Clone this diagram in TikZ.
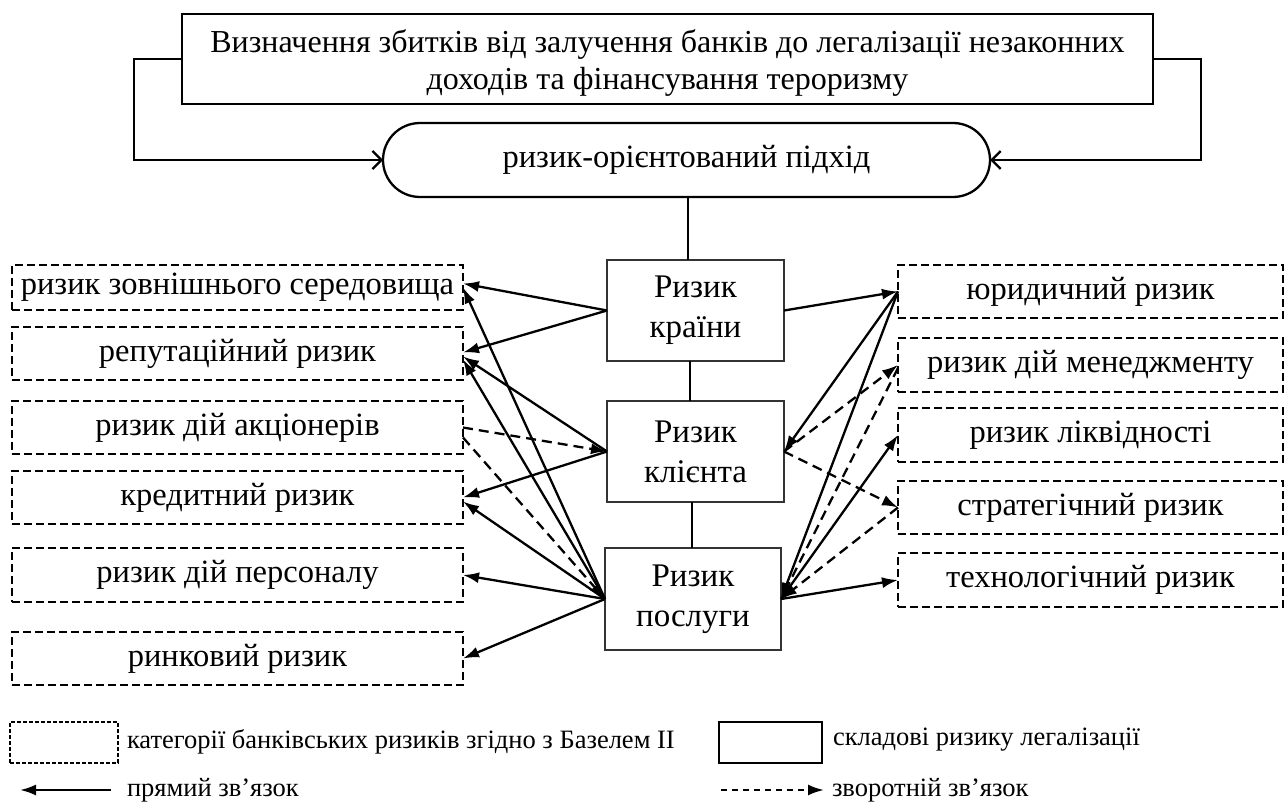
\documentclass[tikz,border=0pt]{standalone}
\usepackage{fontspec}
\setmainfont{Liberation Serif}
\usetikzlibrary{arrows.meta,calc}
\begin{document}
\begin{tikzpicture}[x=1pt,y=-1pt,
 every node/.style={inner sep=0pt, outer sep=0pt},
 bbox/.style={draw, dash pattern=on 8pt off 4pt, line width=2pt, minimum width=451pt, minimum height=53pt, font=\fontsize{32.5}{38}\selectfont},
 rbox/.style={bbox, minimum width=385pt},
 cbox/.style={draw=black!80, line width=2.2pt, minimum width=177pt, minimum height=101pt, align=center, font=\fontsize{33}{40}\selectfont},
 sol/.style={line width=2.3pt, -{Latex[length=16pt,width=11pt]}},
 dsh/.style={sol, dash pattern=on 10pt off 6pt},
 fb/.style={line width=2.3pt, -{Straight Barb[length=9pt,width=18pt]}},
 link/.style={line width=1.1pt},
 leg/.style={anchor=west, font=\fontsize{26.5}{30}\selectfont}]

\useasboundingbox (0,0) rectangle (1285,805);

% top
\node[draw, line width=2.3pt, minimum width=971pt, minimum height=90pt] (top) at (667.5,59) {};
\node[align=center, font=\fontsize{32}{37}\selectfont] (toptext) at (667.5,63)
 {Визначення збитків від залучення банків до легалізації незаконних\\доходів та фінансування тероризму};
\node[draw, line width=2.3pt, rounded corners=37pt, minimum width=607pt, minimum height=74pt, font=\fontsize{32.5}{38}\selectfont] (stad) at (686.5,160) {ризик-орієнтований підхід};

\draw[fb] (top.west) -- ++(-48,0) |- (stad.west);
\draw[fb] (top.east) -- ++(48,0) |- (stad.east);

% centre
\node[cbox] (country) at (695.5,310.5) {Ризик\\країни};
\node[cbox] (client) at (695.5,451.5) {Ризик\\клієнта};
\node[cbox, minimum width=176pt, minimum height=102pt] (service) at (693,599) {Ризик\\послуги};

\draw[link] ([xshift=-7.5pt]country.north) -- ([xshift=-7.5pt]country.north |- stad.south);
\draw[link] ([xshift=-5.5pt]country.south) -- ([xshift=-5.5pt]country.south |- client.north);
\draw[link] ([xshift=-3.5pt]client.south) -- ([xshift=-3.5pt]client.south |- service.north);

% left boxes
\node[bbox, minimum height=45pt] (L1) at (237.5,287.5) {ризик зовнішнього середовища};
\node[bbox] (L2) at (237.5,353.5) {репутаційний ризик};
\node[bbox] (L3) at (237.5,427.5) {ризик дій акціонерів};
\node[bbox] (L4) at (237.5,497.5) {кредитний ризик};
\node[bbox, minimum height=54pt] (L5) at (237.5,575) {ризик дій персоналу};
\node[bbox] (L6) at (237.5,658.5) {ринковий ризик};

% right boxes
\node[rbox] (R1) at (1090.5,291.5) {юридичний ризик};
\node[rbox, minimum height=54pt] (R2) at (1090.5,365) {ризик дій менеджменту};
\node[rbox, minimum height=54pt] (R3) at (1090.5,435) {ризик ліквідності};
\node[rbox] (R4) at (1090.5,507.5) {стратегічний ризик};
\node[rbox, minimum height=54pt] (R5) at (1090.5,580) {технологічний ризик};

% left connectors
\draw[sol] (country.west) -- ([yshift=4pt]L1.east);
\draw[sol] (country.west) -- ([yshift=1pt]L2.east);
\draw[sol] (client.west) -- ([yshift=-3pt]L2.east);
\draw[sol] (client.west) -- (L4.east);
\draw[dsh] (L3.east) -- (client.west);
\draw[sol] (service.west) -- (L1.east);
\draw[sol] (service.west) -- ([yshift=-6pt]L2.east);
\draw[dsh] ([yshift=-10pt]L3.east) -- (service.west);
\draw[sol] (service.west) -- ([yshift=-4pt]L4.east);
\draw[sol] (service.west) -- (L5.east);
\draw[sol] (service.west) -- (L6.east);

% right connectors
\draw[sol] (country.east) -- (R1.west);
\draw[sol] (R1.west) -- (client.east);
\draw[sol] (R1.west) -- (service.east);
\draw[dsh] (client.east) -- (R2.west);
\draw[dsh] ([yshift=-3pt]R2.west) -- (service.east);
\draw[sol] (service.east) -- (R3.west);
\draw[dsh] (client.east) -- (R4.west);
\draw[dsh] (R4.west) -- (service.east);
\draw[sol] (service.east) -- (R5.west);

% legend
\node[draw, dash pattern=on 4pt off 2pt, line width=1.8pt, minimum width=108pt, minimum height=41pt] (lg1) at (64,742.5) {};
\node[leg] (lt1) at (127,742) {категорії банківських ризиків згідно з Базелем ІІ};
\node[draw, line width=2.5pt, minimum width=103pt, minimum height=41pt] (lg2) at (770.5,742.5) {};
\node[leg] (lt2) at (833,740) {складові ризику легалізації};
\coordinate (la1) at (111,790);
\coordinate (la0) at (20,790);
\draw[sol] (la1) -- (la0);
\node[leg] (lt3) at (127,790) {прямий зв’язок};
\coordinate (lb0) at (721,790);
\coordinate (lb1) at (824,790);
\draw[dsh, dash pattern=on 6pt off 5pt] (lb0) -- (lb1);
\node[leg] (lt4) at (832,790) {зворотній зв’язок};
\end{tikzpicture}
\end{document}
